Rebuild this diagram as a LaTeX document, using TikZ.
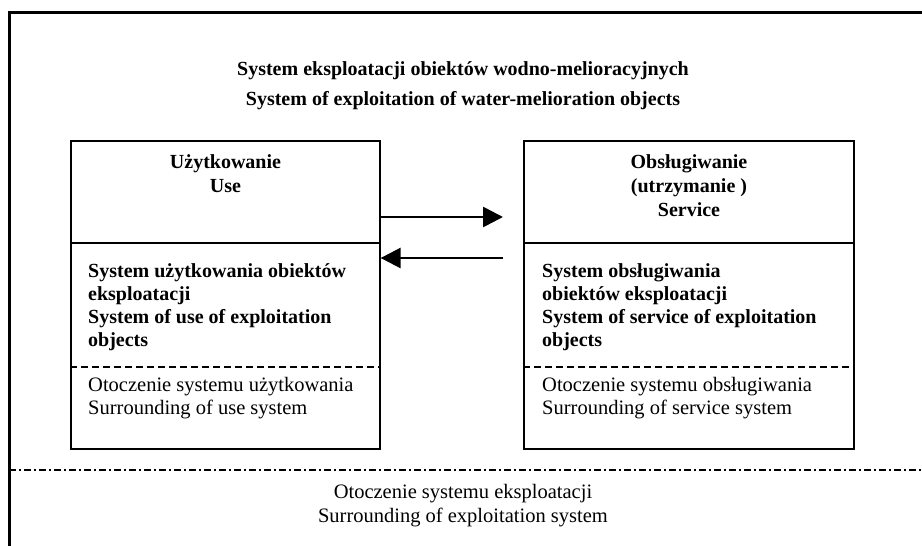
\documentclass[tikz,border=0pt]{standalone}
\usepackage{fontspec}
\setmainfont{Liberation Serif}
\usetikzlibrary{arrows.meta,positioning}

\begin{document}
\begin{tikzpicture}[x=1pt, y=-1pt,
    ramka/.style={line width=3pt},
    blok/.style={rectangle, draw, line width=1.3pt, minimum height=308pt, inner sep=0pt},
    tytul/.style={font=\fontsize{20}{30}\selectfont\bfseries, align=center},
    naglowek/.style={font=\fontsize{20}{24}\selectfont\bfseries, align=center, anchor=north, inner sep=0pt},
    tresc/.style={font=\fontsize{20}{23}\selectfont\bfseries, align=left, anchor=north west, inner sep=0pt},
    otoczenie/.style={font=\fontsize{20.5}{23}\selectfont, align=left, anchor=north west, inner sep=0pt},
    strzalka/.style={line width=2.7pt, -{Triangle[length=20pt, width=20pt]}},
    kreska/.style={line width=1.3pt, dash pattern=on 7pt off 4pt}
  ]
  \useasboundingbox (0,0) rectangle (922,546);
  \draw[ramka] (9,550) -- (9,12.5) -- (926,12.5);

  \node[tytul] (tyt) at (463,86)
    {System eksploatacji obiektów wodno-melioracyjnych\\
     System of exploitation of water-melioration objects};

  \node[blok, minimum width=309pt] (uzytk) at (225.5,295) {};
  \node[blok, minimum width=330pt] (obsl) at (689,295) {};

  \draw[line width=1.3pt] (uzytk.west |- 0,243) -- (uzytk.east |- 0,243);
  \draw[line width=1.3pt] (obsl.west |- 0,243) -- (obsl.east |- 0,243);
  \draw[kreska] (uzytk.west |- 0,367) -- (uzytk.east |- 0,367);
  \draw[kreska] (obsl.west |- 0,367) -- (obsl.east |- 0,367);

  \node[naglowek] (uzytkNag) at (uzytk.north |- 0,154) {Użytkowanie\\ Use};
  \node[naglowek] (obslNag) at (obsl.north |- 0,154) {Obsługiwanie\\ (utrzymanie )\\ Service};

  \node[tresc] (uzytkSys) at (88,263)
    {System użytkowania obiektów\\ eksploatacji\\ System of use of exploitation\\ objects};
  \node[tresc] (obslSys) at (542,263)
    {System obsługiwania\\ obiektów eksploatacji\\ System of service of exploitation\\ objects};

  \node[otoczenie] (uzytkOt) at (88,377) {Otoczenie systemu użytkowania\\ Surrounding of use system};
  \node[otoczenie] (obslOt) at (542,377) {Otoczenie systemu obsługiwania\\ Surrounding of service system};

  \coordinate (doObsl) at (503,217);
  \coordinate (zObsl) at (503,258);
  \draw[strzalka] (uzytk.east |- doObsl) -- (doObsl);
  \draw[strzalka] (zObsl) -- (uzytk.east |- zObsl);

  \draw[line width=1.3pt, dash pattern=on 7pt off 3pt on 2pt off 3pt] (9,470) -- (926,470);

  \node[otoczenie, anchor=north, align=center, font=\fontsize{20.5}{24}\selectfont] (eksplOt) at (463,484)
    {Otoczenie systemu eksploatacji\\ Surrounding of exploitation system};
\end{tikzpicture}
\end{document}
